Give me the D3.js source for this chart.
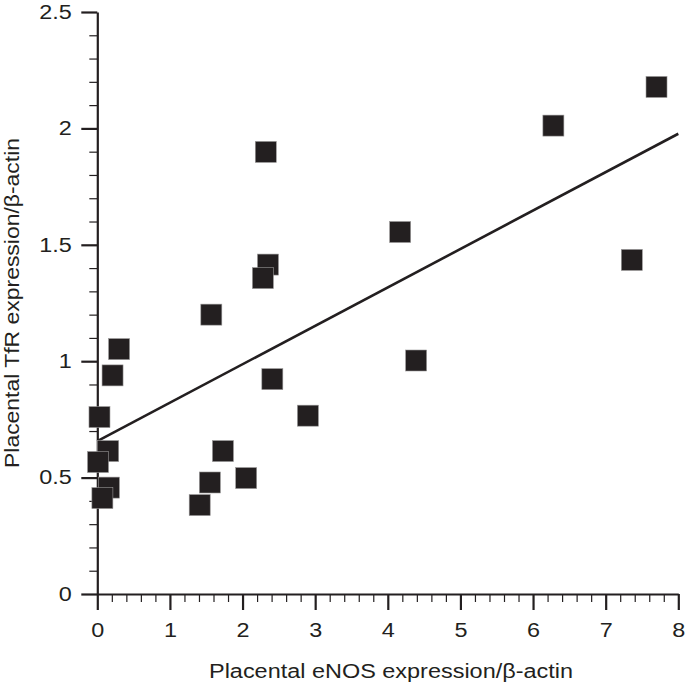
<!DOCTYPE html>
<html>
<head>
<meta charset="utf-8">
<script src="https://cdn.jsdelivr.net/npm/d3@7"></script>
<style>
  html, body { margin: 0; padding: 0; background: #fff; }
  svg { display: block; }
  text { font-family: "Liberation Sans", Arial, Helvetica, sans-serif; fill: #231f20; }
</style>
</head>
<body>
<svg id="chart" width="685" height="682"></svg>
<script>
// ---- data ----
const eNOS = [7.70, 6.28, 7.36, 4.17, 4.39, 2.32, 2.35, 2.28, 1.57, 2.41, 2.90, 1.73, 1.55, 2.05, 1.41, 0.30, 0.21, 0.03, 0.15, 0.01, 0.16, 0.07];
const TfR  = [2.178, 2.012, 1.435, 1.555, 1.003, 1.899, 1.415, 1.357, 1.20, 0.923, 0.766, 0.614, 0.479, 0.498, 0.382, 1.052, 0.939, 0.760, 0.614, 0.567, 0.457, 0.412];
const fitX = [0, 8];
const fitY = [0.657, 1.977];
const xTicks = [0, 1, 2, 3, 4, 5, 6, 7, 8];
const xMinor = [0.2,0.4,0.6,0.8,1.2,1.4,1.6,1.8,2.2,2.4,2.6,2.8,3.2,3.4,3.6,3.8,4.2,4.4,4.6,4.8,5.2,5.4,5.6,5.8,6.2,6.4,6.6,6.8,7.2,7.4,7.6,7.8];
const yTicks = [0, 0.5, 1, 1.5, 2, 2.5];
const yTickLabels = ["0", "0.5", "1", "1.5", "2", "2.5"];
const yMinor = [0.1,0.2,0.3,0.4,0.6,0.7,0.8,0.9,1.1,1.2,1.3,1.4,1.6,1.7,1.8,1.9,2.1,2.2,2.3,2.4];
const xTitle = "Placental eNOS expression/β-actin";
const yTitle = "Placental TfR expression/β-actin";

// ---- layout ----
const ink = "#231f20";
const fontSize = 19.5;
const stretch = 1.2;
const x = d3.scaleLinear().domain([0, 8]).range([97.3, 678.3]);
const y = d3.scaleLinear().domain([0, 2.5]).range([594, 12]);
const svg = d3.select("#chart");

function widen(sel, factor) {
  sel.each(function () {
    const w = this.getComputedTextLength();
    d3.select(this).attr("textLength", w * factor).attr("lengthAdjust", "spacingAndGlyphs");
  });
}

function styleAxis(g) {
  g.selectAll("path.domain").attr("stroke", ink).attr("stroke-width", 2.2);
  g.selectAll(".tick line").attr("stroke", ink).attr("stroke-width", 2.2);
  g.selectAll(".tick text").attr("fill", ink).style("font-size", fontSize + "px")
    .style("font-family", '"Liberation Sans", Arial, Helvetica, sans-serif');
  widen(g.selectAll(".tick text"), stretch);
}

// minor ticks
svg.append("g").attr("transform", "translate(0,594)")
  .call(d3.axisBottom(x).tickValues(xMinor).tickSize(8).tickSizeOuter(0).tickFormat(""))
  .call(g => { g.select("path.domain").remove(); g.selectAll(".tick line").attr("stroke", ink).attr("stroke-width", 1.2); });
svg.append("g").attr("transform", "translate(97.3,0)")
  .call(d3.axisLeft(y).tickValues(yMinor).tickSize(8).tickSizeOuter(0).tickFormat(""))
  .call(g => { g.select("path.domain").remove(); g.selectAll(".tick line").attr("stroke", ink).attr("stroke-width", 1.2); });

// major axes
svg.append("g").attr("transform", "translate(0,594)")
  .call(d3.axisBottom(x).tickValues(xTicks).tickSize(16).tickSizeOuter(0).tickPadding(13).tickFormat(d => String(d)))
  .call(styleAxis);
svg.append("g").attr("transform", "translate(97.3,0)")
  .call(d3.axisLeft(y).tickValues(yTicks).tickSize(16).tickSizeOuter(0).tickPadding(9.6)
    .tickFormat((d, i) => yTickLabels[i]))
  .call(styleAxis);

// regression line
svg.append("line")
  .attr("x1", x(fitX[0])).attr("y1", y(fitY[0]))
  .attr("x2", x(fitX[1])).attr("y2", y(fitY[1]))
  .attr("stroke", ink).attr("stroke-width", 2.6);

// squares
const side = 21;
svg.append("g").selectAll("rect")
  .data(eNOS.map((v, i) => [v, TfR[i]]))
  .join("rect")
  .attr("x", d => x(d[0]) - side / 2)
  .attr("y", d => y(d[1]) - side / 2)
  .attr("width", side).attr("height", side)
  .attr("fill", ink)
  .attr("stroke", "#9a9898").attr("stroke-width", 0.6);

// titles
svg.append("text")
  .attr("x", 391).attr("y", 678)
  .attr("text-anchor", "middle")
  .style("font-size", fontSize + "px")
  .attr("textLength", 364).attr("lengthAdjust", "spacingAndGlyphs")
  .text(xTitle);
svg.append("text")
  .attr("transform", "translate(18.5,303) rotate(-90)")
  .attr("text-anchor", "middle")
  .style("font-size", fontSize + "px")
  .attr("textLength", 330).attr("lengthAdjust", "spacingAndGlyphs")
  .text(yTitle);
</script>
</body>
</html>
